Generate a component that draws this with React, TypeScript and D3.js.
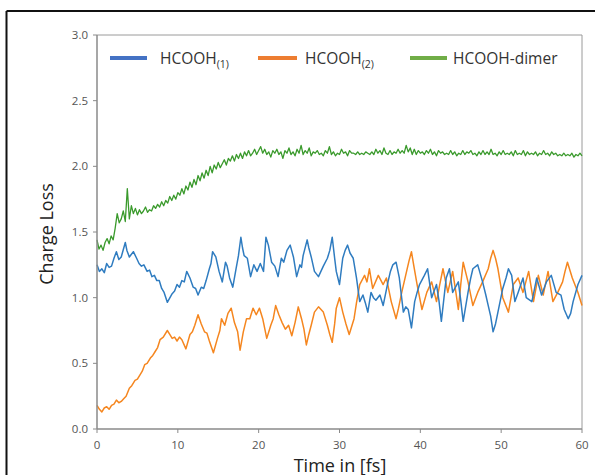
import React from "react";
import * as d3 from "d3";

const xTicks = [0, 10, 20, 30, 40, 50, 60];
const yTicks = [0, 0.5, 1.0, 1.5, 2.0, 2.5, 3.0];

const seriesNames = ["HCOOH", "HCOOH", "HCOOH-dimer"];
const seriesSubs = ["(1)", "(2)", ""];

const blueData: [number, number][] = [
  [0, 1.25], [0.3, 1.2], [0.6, 1.22], [0.9, 1.19], [1.2, 1.26], [1.5, 1.23], [1.8, 1.24], [2.1, 1.3], [2.4, 1.35], [2.7, 1.29], [3.0, 1.31], [3.5, 1.42], [3.7, 1.36], [4.0, 1.31],
  [4.5, 1.35], [4.9, 1.3], [5.2, 1.26], [5.5, 1.24], [5.8, 1.25], [6.2, 1.2], [6.5, 1.21], [6.8, 1.16], [7.1, 1.17], [7.4, 1.13], [7.7, 1.13], [8.0, 1.07], [8.3, 1.04], [8.7, 0.965],
  [9.3, 1.03], [9.6, 1.05], [9.9, 1.1], [10.2, 1.08], [10.5, 1.13], [10.8, 1.12], [11.1, 1.2], [11.5, 1.15], [11.9, 1.08], [12.2, 1.07], [12.5, 1.02], [12.9, 1.08],
  [13.2, 1.07], [13.5, 1.13], [13.9, 1.22], [14.1, 1.26], [14.3, 1.35], [14.7, 1.31], [15.1, 1.2], [15.5, 1.12], [15.9, 1.27], [16.1, 1.24], [16.4, 1.15],
  [16.8, 1.08], [17.2, 1.22], [17.5, 1.32], [17.8, 1.46], [18.0, 1.38], [18.2, 1.32], [18.6, 1.3], [19.0, 1.16], [19.4, 1.25], [19.8, 1.2],
  [20.2, 1.26], [20.6, 1.2], [20.9, 1.46], [21.2, 1.4], [21.6, 1.27], [22.0, 1.24], [22.4, 1.16], [22.8, 1.3], [23.1, 1.27],
  [23.5, 1.36], [23.9, 1.4], [24.3, 1.31], [24.7, 1.16], [25.1, 1.25], [25.3, 1.23], [25.5, 1.32], [26.0, 1.44], [26.2, 1.38], [26.5, 1.31],
  [26.9, 1.2], [27.4, 1.16], [27.7, 1.2], [28.0, 1.24], [28.5, 1.3], [28.8, 1.36], [29.1, 1.46], [29.4, 1.3], [29.6, 1.2], [30.0, 1.1], [30.4, 1.3],
  [30.7, 1.36], [31.0, 1.4], [31.3, 1.34], [31.7, 1.3], [32.1, 1.15], [32.5, 0.97], [32.9, 1.02], [33.2, 0.96], [33.5, 0.89], [33.9, 1.04], [34.2, 1.0], [34.5, 0.98],
  [35.0, 1.02], [35.4, 0.94], [36.0, 1.12], [36.3, 1.2], [36.6, 1.25], [37.0, 1.27], [37.4, 1.15], [37.9, 0.89], [38.2, 0.93], [38.5, 0.91],
  [38.9, 0.77], [39.3, 0.97], [39.6, 1.04], [39.9, 1.1], [40.5, 1.17], [40.9, 1.22], [41.4, 1.0], [42.0, 1.1], [42.3, 0.98], [42.6, 0.82],
  [43.2, 1.15], [43.6, 1.22], [44.0, 1.04], [44.7, 1.12], [45.0, 0.98], [45.3, 0.82], [45.9, 1.04], [46.2, 1.14], [46.5, 1.22], [47.1, 1.25],
  [47.7, 1.12], [48.1, 1.02], [48.4, 0.94], [48.7, 0.86], [49.0, 0.74], [49.3, 0.8], [49.6, 0.89], [50.2, 1.07], [50.6, 1.15], [50.9, 1.22], [51.3, 1.17], [51.7, 0.97],
  [52.1, 1.04], [52.7, 1.15], [53.1, 1.0], [53.8, 0.97], [54.1, 1.06], [54.4, 1.15], [55.0, 1.02], [55.6, 1.12], [56.2, 1.17],
  [56.8, 1.04], [57.4, 1.02], [57.8, 0.91], [58.3, 0.84], [58.6, 0.88], [58.9, 0.97], [59.5, 1.1], [60.0, 1.17],
];

const orangeData: [number, number][] = [
  [0, 0.18], [0.3, 0.15], [0.6, 0.13], [0.9, 0.16], [1.2, 0.17], [1.5, 0.15], [1.8, 0.18], [2.1, 0.19], [2.4, 0.22], [2.7, 0.2], [3.0, 0.21], [3.3, 0.23], [3.6, 0.25], [4.0, 0.31],
  [4.3, 0.33], [4.7, 0.37], [5.0, 0.38], [5.3, 0.41], [5.6, 0.44], [5.9, 0.49], [6.2, 0.5], [6.6, 0.54], [6.9, 0.56], [7.2, 0.59], [7.5, 0.62], [7.8, 0.68], [8.2, 0.7], [8.7, 0.75], [9.0, 0.72], [9.3, 0.69],
  [9.6, 0.7], [9.9, 0.67], [10.2, 0.7], [10.5, 0.68], [11.0, 0.61], [11.5, 0.72], [11.8, 0.74], [12.1, 0.79], [12.5, 0.87], [12.9, 0.8], [13.3, 0.74],
  [13.6, 0.73], [13.9, 0.67], [14.4, 0.58], [14.9, 0.69], [15.2, 0.75], [15.4, 0.84], [15.8, 0.79], [16.2, 0.88], [16.6, 0.92], [17.0, 0.81],
  [17.4, 0.74], [17.7, 0.6], [18.1, 0.74], [18.5, 0.84], [18.9, 0.84], [19.3, 0.92], [19.7, 0.87], [20.1, 0.92],
  [20.5, 0.84], [21.0, 0.69], [21.5, 0.79], [21.8, 0.84], [22.1, 0.94], [22.5, 0.87], [22.9, 0.81], [23.3, 0.76], [23.7, 0.79],
  [24.1, 0.71], [24.5, 0.81], [24.9, 0.93], [25.3, 0.84], [25.6, 0.76], [25.9, 0.64], [26.2, 0.72], [26.5, 0.79], [26.9, 0.89], [27.4, 0.93],
  [28.0, 0.89], [28.5, 0.79], [28.8, 0.72], [29.1, 0.66], [29.4, 0.8], [29.6, 0.92], [30.0, 1.0], [30.4, 0.89], [30.8, 0.8], [31.2, 0.72], [31.8, 0.84],
  [32.1, 0.96], [32.5, 1.1], [33.1, 1.17], [33.4, 1.12], [33.7, 1.22], [34.1, 1.07], [34.8, 1.17], [35.4, 1.1], [35.8, 1.15], [36.4, 0.97],
  [37.0, 0.84], [37.3, 0.92], [37.7, 1.04], [38.3, 1.2], [38.6, 1.28], [38.9, 1.35], [39.2, 1.24], [39.6, 1.1], [40.2, 0.91], [40.8, 1.04], [41.4, 1.12],
  [42.0, 0.97], [42.4, 1.1], [42.8, 1.22], [43.4, 1.04], [44.0, 1.2], [44.4, 1.04], [44.7, 0.91], [45.0, 1.1], [45.3, 1.27], [45.9, 1.12], [46.5, 0.94],
  [47.1, 1.04], [47.7, 1.12], [48.4, 1.22], [48.7, 1.3], [49.0, 1.36], [49.3, 1.3], [49.6, 1.22], [50.2, 1.0], [50.9, 0.89], [51.5, 1.1],
  [52.1, 1.15], [52.7, 1.04], [53.4, 1.2], [54.0, 0.97], [54.6, 1.17], [55.2, 1.02], [55.8, 1.2], [56.4, 0.97],
  [57.0, 1.04], [57.6, 1.12], [57.9, 1.2], [58.2, 1.27], [58.8, 1.15], [59.5, 1.04], [60.0, 0.94],
];

// dimer, sampled every 0.25 fs
const greenStep = 0.25;
const greenValues = [
  1.44, 1.37, 1.40, 1.36, 1.42, 1.45, 1.41, 1.47,
  1.44, 1.53, 1.64, 1.57, 1.60, 1.66, 1.58, 1.83,
  1.60, 1.70, 1.64, 1.68, 1.63, 1.67, 1.64, 1.66,
  1.69, 1.65, 1.67, 1.66, 1.70, 1.68, 1.71, 1.69,
  1.73, 1.70, 1.74, 1.72, 1.77, 1.74, 1.78, 1.75,
  1.80, 1.78, 1.83, 1.79, 1.85, 1.82, 1.88, 1.84,
  1.90, 1.86, 1.93, 1.89, 1.95, 1.91, 1.97, 1.93,
  2.00, 1.95, 2.01, 1.98, 2.03, 1.99, 2.02, 2.05,
  2.01, 2.06, 2.04, 2.08, 2.04, 2.09, 2.06, 2.10,
  2.06, 2.11, 2.08, 2.12, 2.08, 2.10, 2.13, 2.09,
  2.12, 2.15, 2.10, 2.13, 2.09, 2.11, 2.07, 2.12,
  2.10, 2.13, 2.09, 2.11, 2.06, 2.12, 2.10, 2.14,
  2.09, 2.11, 2.08, 2.13, 2.10, 2.16, 2.09, 2.12,
  2.10, 2.14, 2.08, 2.11, 2.10, 2.12, 2.09, 2.10,
  2.08, 2.12, 2.10, 2.15, 2.09, 2.11, 2.08, 2.10,
  2.09, 2.13, 2.10, 2.11, 2.08, 2.12, 2.10, 2.10,
  2.09, 2.11, 2.09, 2.10, 2.09, 2.11, 2.10, 2.09,
  2.11, 2.09, 2.13, 2.10, 2.12, 2.09, 2.14, 2.10,
  2.09, 2.12, 2.09, 2.11, 2.10, 2.13, 2.10, 2.12,
  2.10, 2.16, 2.11, 2.14, 2.09, 2.13, 2.09, 2.12,
  2.10, 2.11, 2.09, 2.12, 2.10, 2.13, 2.09, 2.11,
  2.08, 2.12, 2.10, 2.11, 2.09, 2.10, 2.09, 2.12,
  2.09, 2.11, 2.08, 2.10, 2.09, 2.12, 2.09, 2.11,
  2.10, 2.12, 2.09, 2.10, 2.08, 2.11, 2.09, 2.12,
  2.09, 2.11, 2.09, 2.13, 2.09, 2.10, 2.08, 2.11,
  2.09, 2.12, 2.09, 2.10, 2.09, 2.11, 2.08, 2.12,
  2.09, 2.10, 2.09, 2.12, 2.08, 2.11, 2.09, 2.10,
  2.09, 2.11, 2.08, 2.10, 2.09, 2.12, 2.09, 2.10,
  2.08, 2.11, 2.09, 2.10, 2.08, 2.09, 2.08, 2.10,
  2.08, 2.09, 2.08, 2.10, 2.07, 2.09, 2.08, 2.10,
  2.08,
];

const lineColors = ["#2f7cc0", "#f5861f", "#3a9a2c"];
const legendColors = ["#4472c4", "#ed7d31", "#70ad47"];

export default function App() {
  const W = 595, H = 475;
  const L = 97, R = 582, T = 35, B = 429;
  const x = d3.scaleLinear().domain([0, 60]).range([L, R]);
  const y = d3.scaleLinear().domain([0, 3]).range([B, T]);
  const line = d3.line<[number, number]>().x(d => x(d[0])).y(d => y(d[1]));
  const greenData: [number, number][] = greenValues.map((v, i) => [i * greenStep, v]);
  const font = "'Open Sans', 'Noto Sans', sans-serif";
  const axisColor = "#8a8a8a";

  const legend = [
    { lx1: 110, lx2: 147, tx: 160 },
    { lx1: 258, lx2: 297, tx: 305 },
    { lx1: 410, lx2: 447, tx: 453 },
  ];

  return (
    <svg width={W} height={H} style={{ position: "absolute", left: 0, top: 0, background: "#fff" }} fontFamily={font}>
      <rect x={0} y={0} width={W} height={H} fill="#fff" />
      {/* outer figure border (left & top) */}
      <line x1={6.5} y1={11} x2={6.5} y2={H} stroke="#111" strokeWidth={2} />
      <line x1={6.5} y1={11} x2={W} y2={11} stroke="#111" strokeWidth={2} />

      {/* plot frame top & right */}
      <line x1={L} y1={T} x2={R} y2={T} stroke="#9a9a9a" strokeWidth={1} />
      <line x1={R} y1={T} x2={R} y2={B} stroke="#9a9a9a" strokeWidth={1} />

      {/* series */}
      <path d={line(greenData) || ""} fill="none" stroke={lineColors[2]} strokeWidth={1.3} strokeLinejoin="round" />
      <path d={line(orangeData) || ""} fill="none" stroke={lineColors[1]} strokeWidth={1.5} strokeLinejoin="round" />
      <path d={line(blueData) || ""} fill="none" stroke={lineColors[0]} strokeWidth={1.5} strokeLinejoin="round" />

      {/* axes */}
      <line x1={L} y1={T} x2={L} y2={B} stroke={axisColor} strokeWidth={1.5} />
      <line x1={L} y1={B} x2={R} y2={B} stroke={axisColor} strokeWidth={1.5} />
      {yTicks.map(t => (
        <g key={"y" + t}>
          <line x1={L - 4} x2={L} y1={y(t)} y2={y(t)} stroke={axisColor} strokeWidth={1} />
          <text x={L - 9} y={y(t)} dy="0.35em" textAnchor="end" fontSize={11.5} fill="#555">
            {d3.format(".1f")(t)}
          </text>
        </g>
      ))}
      {xTicks.map(t => (
        <g key={"x" + t}>
          <line x1={x(t)} x2={x(t)} y1={B} y2={B + 4} stroke={axisColor} strokeWidth={1} />
          <text x={x(t)} y={B + 20} textAnchor="middle" fontSize={11.5} fill="#555">
            {t}
          </text>
        </g>
      ))}

      {/* axis titles */}
      <text x={340} y={472} textAnchor="middle" fontSize={18} fill="#222">Time in [fs]</text>
      <text transform={`translate(53,234) rotate(-90)`} textAnchor="middle" fontSize={18} fill="#222">Charge Loss</text>

      {/* legend */}
      {legend.map((lg, i) => (
        <g key={"lg" + i}>
          <line x1={lg.lx1} x2={lg.lx2} y1={58} y2={58} stroke={legendColors[i]} strokeWidth={4} />
          <text x={lg.tx} y={64} fontSize={15.5} fill="#333">
            {seriesNames[i]}
            {seriesSubs[i] && (
              <tspan fontSize={10.5} dy={4}>{seriesSubs[i]}</tspan>
            )}
          </text>
        </g>
      ))}
    </svg>
  );
}
